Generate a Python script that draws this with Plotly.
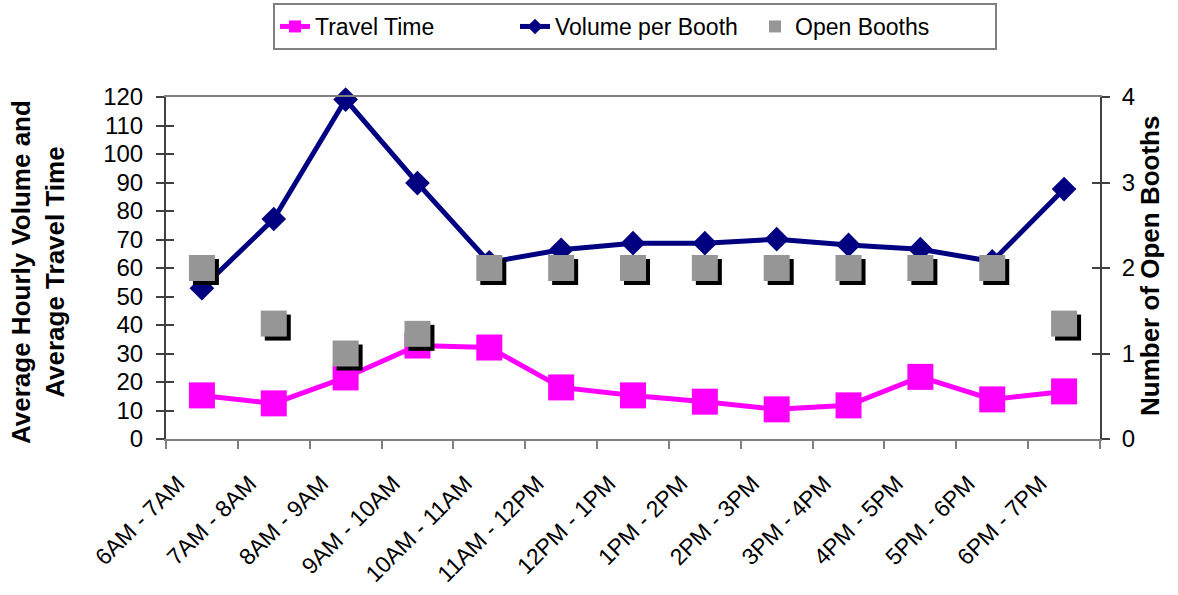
import plotly.graph_objects as go

categories = ["6AM - 7AM", "7AM - 8AM", "8AM - 9AM", "9AM - 10AM", "10AM - 11AM",
              "11AM - 12PM", "12PM - 1PM", "1PM - 2PM", "2PM - 3PM", "3PM - 4PM",
              "4PM - 5PM", "5PM - 6PM", "6PM - 7PM"]
travel_time = [15.3, 12.5, 21.6, 32.8, 32.1, 18.1, 15.3, 13.1, 10.4, 11.8, 21.8, 13.9, 16.7]
volume_per_booth = [52.9, 77.2, 119.1, 89.8, 62.0, 66.4, 68.7, 68.7, 70.1, 68.1, 66.6, 62.3, 87.7]
open_booths = [2, 1.35, 1.0, 1.23, 2, 2, 2, 2, 2, 2, 2, 2, 1.35]

left_title = "Average Hourly Volume and<br>Average Travel Time"
right_title = "Number of Open Booths"

FONT = "Liberation Sans, Arial, sans-serif"
W, H = 1178, 595
ML, MR, MT, MB = 166, 78, 97, 156
PW = W - ML - MR
PH = H - MT - MB
SHADOW = 4  # px

fig = go.Figure()

fig.add_trace(go.Scatter(
    x=categories, y=travel_time, name="Travel Time", mode="lines+markers",
    line=dict(color="#FF00FF", width=5),
    marker=dict(symbol="square", size=26, color="#FF00FF"),
    xaxis="x", yaxis="y", cliponaxis=False))

fig.add_trace(go.Scatter(
    x=categories, y=volume_per_booth, name="Volume per Booth", mode="lines+markers",
    line=dict(color="#000080", width=5),
    marker=dict(symbol="diamond", size=19, color="#000080"),
    xaxis="x", yaxis="y", cliponaxis=False))

# dummy traces so the right axis and the inner-tick axes are drawn
for ya in ["y2", "y4", "y5"]:
    fig.add_trace(go.Scatter(x=[categories[0]], y=[None], xaxis="x", yaxis=ya,
                             showlegend=False, hoverinfo="skip", mode="markers"))

# shadow of open booths markers (shifted axes)
fig.add_trace(go.Scatter(
    x=categories, y=open_booths, name="shadow", mode="markers", showlegend=False,
    marker=dict(symbol="square", size=26, color="#000000"),
    xaxis="x3", yaxis="y3", cliponaxis=False, hoverinfo="skip"))

fig.add_trace(go.Scatter(
    x=categories, y=open_booths, name="Open Booths", mode="markers",
    marker=dict(symbol="square", size=26, color="#969696"),
    xaxis="x4", yaxis="y6", cliponaxis=False))

dx = SHADOW * 13 / PW
dy2 = SHADOW * 4 / PH

fig.update_layout(
    width=W, height=H,
    margin=dict(l=ML, r=MR, t=MT, b=MB, autoexpand=False),
    paper_bgcolor="white", plot_bgcolor="white",
    font=dict(family=FONT, size=23, color="black"),
    xaxis=dict(type="category", range=[-0.5, 12.5], tickson="boundaries",
               ticks="outside", ticklen=8, tickwidth=2, tickcolor="#808080",
               showline=True, linecolor="#808080", linewidth=2, mirror=True,
               showgrid=False, tickangle=-45, tickfont=dict(size=23),
               ticklabelstandoff=20, ticklabelshift=-24),
    xaxis3=dict(type="category", range=[-0.5 - dx, 12.5 - dx], overlaying="x",
                visible=False),
    xaxis4=dict(type="category", range=[-0.5, 12.5], overlaying="x", visible=False),
    yaxis=dict(range=[0, 120], dtick=10, ticks="outside", ticklen=8, tickwidth=2,
               tickcolor="#404040", showline=True, linecolor="#404040", linewidth=2,
               showgrid=False, zeroline=False, tickfont=dict(size=24),
               ticklabelstandoff=8),
    yaxis2=dict(range=[0, 4], dtick=1, overlaying="y", side="right",
                ticks="outside", ticklen=8, tickwidth=2, tickcolor="#404040",
                showline=True, linecolor="#404040", linewidth=2,
                showgrid=False, zeroline=False, tickfont=dict(size=24),
                ticklabelstandoff=7),
    yaxis3=dict(range=[0 + dy2, 4 + dy2], overlaying="y", visible=False),
    yaxis4=dict(range=[0, 120], dtick=10, overlaying="y", side="left",
                ticks="inside", ticklen=8, tickwidth=2, tickcolor="#404040",
                showticklabels=False, showline=False, showgrid=False, zeroline=False),
    yaxis5=dict(range=[0, 4], dtick=1, overlaying="y", side="right",
                ticks="inside", ticklen=8, tickwidth=2, tickcolor="#404040",
                showticklabels=False, showline=False, showgrid=False, zeroline=False),
    yaxis6=dict(range=[0, 4], overlaying="y", visible=False),
    legend=dict(orientation="h", x=(635 - ML) / PW, xanchor="center",
                y=(H - MB - 3) / PH, yanchor="top",
                bordercolor="#808080", borderwidth=2, bgcolor="white",
                font=dict(size=23), itemsizing="constant",
                entrywidth=195, entrywidthmode="pixels"),
    showlegend=True,
    annotations=[
        dict(text="<b>" + left_title + "</b>", xref="paper", yref="paper",
             x=(38 - ML) / PW, y=(H - MB - 272) / PH, xanchor="center", yanchor="middle",
             textangle=-90, showarrow=False, font=dict(size=26)),
        dict(text="<b>" + right_title + "</b>", xref="paper", yref="paper",
             x=(1150 - ML) / PW, y=(H - MB - 266) / PH, xanchor="center", yanchor="middle",
             textangle=-90, showarrow=False, font=dict(size=26)),
    ],
)

fig.write_html("out.html", config={"displayModeBar": False},
               post_script="document.body.style.margin='0';document.body.style.overflow='hidden';")
